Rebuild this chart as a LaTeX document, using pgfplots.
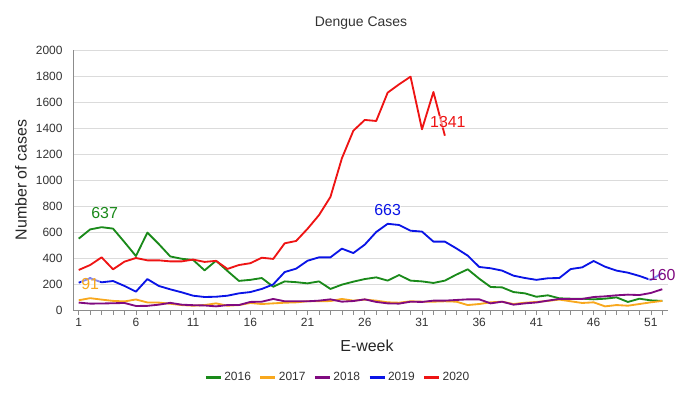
\documentclass[border=0pt]{standalone}
\usepackage{pgfplots}
\pgfplotsset{compat=1.18}
\usepackage{pgfplotstable}
\usepackage{fontspec}
\setmainfont{Liberation Sans}
\definecolor{c16}{HTML}{1A8A1A}
\definecolor{c17}{HTML}{F8A81E}
\definecolor{c18}{HTML}{800A80}
\definecolor{c19}{HTML}{0A14E6}
\definecolor{c20}{HTML}{EE1414}
\definecolor{txt}{HTML}{333333}

\pgfplotstableread{
w v
1 549
2 620
3 637
4 626
5 522
6 415
7 595
8 507
9 412
10 394
11 385
12 305
13 379
14 300
15 224
16 232
17 246
18 179
19 220
20 214
21 205
22 220
23 162
24 195
25 218
26 238
27 251
28 226
29 269
30 226
31 220
32 208
33 226
34 272
35 313
36 241
37 177
38 174
39 138
40 128
41 102
42 113
43 90
44 87
45 87
46 82
47 87
48 97
49 62
50 87
51 74
52 70
}\tsixteen

\pgfplotstableread{
w v
1 75
2 91
3 80
4 70
5 66
6 81
7 58
8 57
9 48
10 38
11 33
12 38
13 51
14 33
15 38
16 54
17 46
18 51
19 56
20 59
21 67
22 67
23 69
24 85
25 72
26 80
27 72
28 59
29 56
30 67
31 64
32 64
33 67
34 64
35 38
36 46
37 59
38 64
39 46
40 56
41 62
42 70
43 80
44 67
45 54
46 59
47 28
48 38
49 33
50 46
51 59
52 70
}\tseventeen

\pgfplotstableread{
w v
1 57
2 49
3 50
4 52
5 54
6 31
7 32
8 41
9 55
10 41
11 37
12 35
13 28
14 38
15 38
16 62
17 64
18 85
19 67
20 67
21 67
22 72
23 82
24 64
25 69
26 82
27 62
28 51
29 49
30 64
31 62
32 72
33 72
34 77
35 82
36 82
37 51
38 64
39 41
40 51
41 58
42 72
43 85
44 85
45 85
46 100
47 105
48 113
49 118
50 115
51 131
52 160
}\teighteen

\pgfplotstableread{
w v
1 210
2 244
3 213
4 223
5 185
6 141
7 238
8 185
9 159
10 136
11 110
12 100
13 102
14 110
15 128
16 138
17 162
18 197
19 292
20 318
21 379
22 405
23 405
24 472
25 438
26 503
27 600
28 663
29 654
30 610
31 603
32 526
33 526
34 474
35 418
36 331
37 321
38 303
39 264
40 246
41 232
42 244
43 246
44 315
45 328
46 377
47 333
48 303
49 287
50 262
51 231
52 285
}\tnineteen

\pgfplotstableread{
w v
1 308
2 346
3 405
4 313
5 372
6 400
7 382
8 382
9 374
10 374
11 388
12 370
13 378
14 316
15 346
16 360
17 402
18 393
19 513
20 531
21 625
22 730
23 870
24 1167
25 1379
26 1462
27 1454
28 1672
29 1736
30 1795
31 1390
32 1677
33 1341
}\ttwenty

\begin{document}
\begin{tikzpicture}
\useasboundingbox (0,0) rectangle (691bp,398bp);
\begin{axis}[
  at={(73bp,88bp)}, anchor=south west,
  scale only axis, width=595bp, height=260bp,
  xmin=0.5, xmax=52.5, ymin=0, ymax=2000,
  axis lines=left, axis line style={-, draw=black!45, line width=0.8pt},
  xtick={1,6,...,51}, minor xtick={1,...,52},
  ytick={0,200,...,2000},
  ymajorgrids, major grid style={draw=black!14, line width=0.8pt},
  tick align=outside,
  major tick length=5bp, minor tick length=5bp,
  xtick style={draw=black!45, line width=0.6pt},
  minor x tick style={draw=black!45, line width=0.6pt},
  ytick style={draw=none},
  tick label style={font=\fontsize{12}{14}\selectfont, text=txt},
  yticklabel style={xshift=-2bp},
  /pgf/number format/assume math mode=true,
  /pgf/number format/1000 sep={},
  legend columns=5,
  legend style={at={(0.445,-0.258)}, anchor=center, draw=none,
    font=\fontsize{12}{14}\selectfont, text=txt,
    /tikz/every even column/.append style={column sep=6bp}},
  legend image code/.code={\draw[line width=3bp] (0bp,0bp) -- (15bp,0bp);},
  every axis plot/.append style={line width=1.85pt, line join=round},
  clip=false,
]
\addplot[c16] table[x=w,y=v] {\tsixteen};
\addlegendentry{2016}
\addplot[c17] table[x=w,y=v] {\tseventeen};
\addlegendentry{2017}
\addplot[c18] table[x=w,y=v] {\teighteen};
\addlegendentry{2018}
\addplot[c19] table[x=w,y=v] {\tnineteen};
\addlegendentry{2019}
\addplot[c20] table[x=w,y=v] {\ttwenty};
\addlegendentry{2020}
\tikzset{dl/.style={font=\fontsize{16}{18}\selectfont, fill=white, fill opacity=0.5, text opacity=1, inner sep=0.5bp, yshift=14bp}}
\node[dl, text=c16, xshift=3bp] at (axis cs:3,637) {637};
\node[dl, text=c17] at (axis cs:2,91) {91};
\node[dl, text=c19] at (axis cs:28,663) {663};
\node[dl, text=c20, xshift=3bp] at (axis cs:33,1341) {1341};
\node[dl, text=c18] at (axis cs:52,160) {160};
\end{axis}
\node[font=\fontsize{14}{16}\selectfont, text=txt] at (361bp,375bp) {Dengue Cases};
\node[font=\fontsize{16}{18}\selectfont, text=black!85, rotate=90] at (21bp,218bp) {Number of cases};
\node[font=\fontsize{16}{18}\selectfont, text=black!85] at (367bp,52bp) {E-week};
\end{tikzpicture}
\end{document}
